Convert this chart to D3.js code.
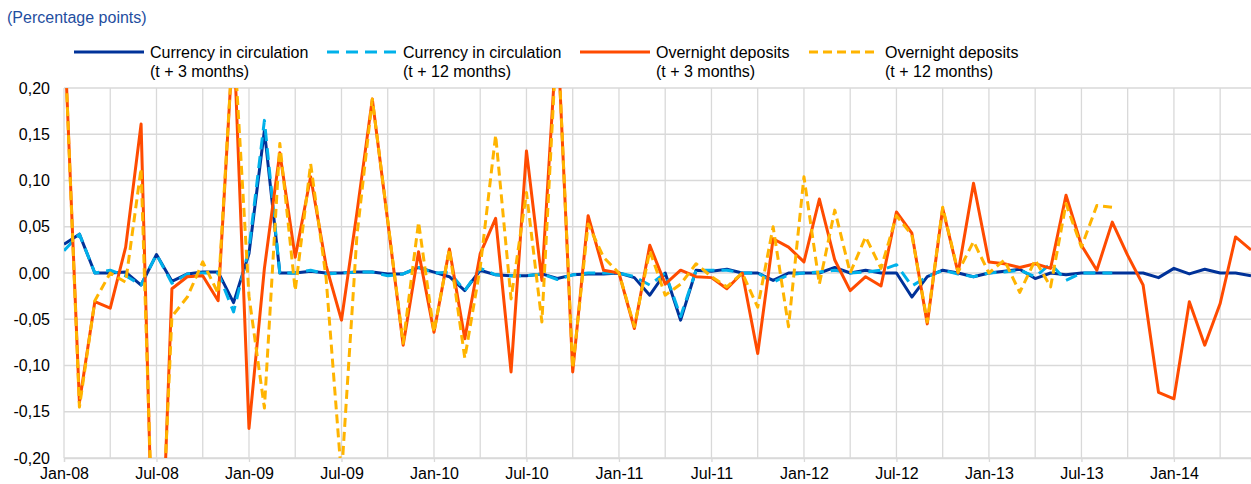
<!DOCTYPE html>
<html>
<head>
<meta charset="utf-8">
<script src="https://cdn.jsdelivr.net/npm/d3@7"></script>
<style>
    body { margin: 0; background: #fff; }
    text { font-family: "Liberation Sans", Arial, sans-serif; }
</style>
</head>
<body>
<div id="chart"></div>
<script>

// monthly observations, Jan-08 .. Jun-14
const months = d3.timeMonth.range(new Date(2008, 0, 1), new Date(2014, 6, 1))

// currency in circulation, t + 3 months
const cic3 = [
    0.031, 0.042, 0.000, 0.000, 0.001, -0.013, 0.020, -0.009, -0.001, 0.001, 0.001, -0.032,
    0.021, 0.154, 0.000, 0.000, 0.002, 0.000, 0.000, 0.001, 0.001, -0.001, -0.001, 0.006,
    0.001, -0.004, -0.019, 0.003, -0.002, -0.003, -0.003, -0.001, -0.006, -0.002, -0.001, -0.001,
    0.000, -0.005, -0.024, 0.000, -0.051, 0.003, 0.002, 0.004, 0.000, 0.000, -0.008, 0.000,
    0.000, 0.000, 0.006, 0.000, 0.003, 0.000, 0.000, -0.026, -0.004, 0.003, 0.000, -0.004,
    0.000, 0.002, 0.004, -0.006, 0.000, -0.002, 0.000, 0.000, 0.000, 0.000, 0.000, -0.005,
    0.005, -0.001, 0.004, 0.000, 0.000, -0.003
]

// currency in circulation, t + 12 months (ends Sep-13)
const cic12 = [
    0.024, 0.042, 0.000, 0.003, -0.003, -0.013, 0.020, -0.011, -0.001, 0.000, 0.000, -0.042,
    0.026, 0.165, 0.000, 0.000, 0.003, -0.001, 0.000, 0.001, 0.001, -0.003, -0.001, 0.006,
    0.000, 0.001, -0.019, 0.005, -0.002, -0.003, -0.003, -0.001, -0.007, -0.002, 0.000, 0.000,
    0.000, -0.004, -0.013, 0.000, -0.047, 0.003, 0.003, 0.003, 0.000, 0.000, -0.010, -0.002,
    0.000, 0.001, 0.003, 0.000, 0.001, 0.003, 0.009, -0.014, -0.004, 0.003, -0.001, -0.004,
    0.000, 0.001, 0.003, -0.004, 0.010, -0.008, 0.000, 0.000, 0.000
]

// overnight deposits, t + 3 months
const od3 = [
    0.270, -0.140, -0.031, -0.038, 0.028, 0.161, -0.470, -0.017, -0.004, -0.003, -0.030, 0.260,
    -0.168, 0.005, 0.130, 0.017, 0.104, 0.008, -0.051, 0.065, 0.188, 0.056, -0.078, 0.023,
    -0.064, 0.026, -0.071, 0.021, 0.059, -0.107, 0.132, -0.008, 0.265, -0.107, 0.062, 0.003,
    0.000, -0.060, 0.030, -0.012, 0.003, -0.004, -0.005, -0.017, 0.000, -0.087, 0.037, 0.028,
    0.012, 0.080, 0.014, -0.019, -0.004, -0.014, 0.066, 0.043, -0.055, 0.070, 0.000, 0.097,
    0.012, 0.010, 0.006, 0.010, 0.005, 0.084, 0.030, 0.003, 0.055, 0.019, -0.013, -0.129,
    -0.136, -0.031, -0.078, -0.033, 0.039, 0.025
]

// overnight deposits, t + 12 months (ends Sep-13)
const od12 = [
    0.270, -0.145, -0.030, 0.000, -0.010, 0.113, -0.420, -0.047, -0.026, 0.012, -0.022, 0.260,
    -0.025, -0.146, 0.140, -0.019, 0.118, -0.005, -0.220, 0.040, 0.188, 0.057, -0.076, 0.055,
    -0.064, 0.026, -0.092, 0.006, 0.149, -0.028, 0.087, -0.053, 0.265, -0.103, 0.053, 0.017,
    0.000, -0.058, 0.024, -0.024, -0.012, 0.010, -0.004, -0.015, 0.000, -0.037, 0.050, -0.058,
    0.104, -0.012, 0.068, 0.000, 0.039, 0.005, 0.062, 0.041, -0.053, 0.071, 0.001, 0.034,
    0.000, 0.014, -0.021, 0.014, -0.015, 0.075, 0.028, 0.073, 0.071
]

const yTicks = [-0.20, -0.15, -0.10, -0.05, 0, 0.05, 0.10, 0.15, 0.20]

const series = [
    { name: ["Currency in circulation", "(t + 3 months)"], values: cic3, color: "#003299", dash: null },
    { name: ["Currency in circulation", "(t + 12 months)"], values: cic12, color: "#00b1ea", dash: "12,7" },
    { name: ["Overnight deposits", "(t + 3 months)"], values: od3, color: "#ff4b00", dash: null },
    { name: ["Overnight deposits", "(t + 12 months)"], values: od12, color: "#ffb400", dash: "9,5" },
]


const width = 1251
const height = 484
const margin = { top: 88, right: 0, bottom: 26, left: 64 }

const svg = d3.select("#chart")
    .append("svg")
    .attr("width", width)
    .attr("height", height)

const x = d3.scaleLinear()
    .domain([0, months.length - 1])
    .range([margin.left, width - margin.right])

const y = d3.scaleLinear()
    .domain([-0.2, 0.2])
    .range([height - margin.bottom, margin.top])

// comma decimal, plain hyphen for negatives
const locale = d3.formatLocale({ decimal: ",", thousands: ".", grouping: [3], currency: ["", ""], minus: "-" })
const fmtY = locale.format(".2f")
const fmtMonth = d3.timeFormat("%b-%y")

// grid
const grid = svg.append("g").attr("class", "grid")
grid.selectAll("line.h")
    .data(yTicks)
    .join("line")
    .attr("class", "h")
    .attr("x1", margin.left)
    .attr("x2", width - margin.right)
    .attr("y1", d => y(d))
    .attr("y2", d => y(d))
    .attr("stroke", "#d9d9d9")
    .attr("stroke-width", 1.3)

grid.selectAll("line.v")
    .data(d3.range(0, months.length, 3))
    .join("line")
    .attr("class", "v")
    .attr("x1", d => x(d))
    .attr("x2", d => x(d))
    .attr("y1", y(0.2))
    .attr("y2", y(-0.2))
    .attr("stroke", "#d9d9d9")
    .attr("stroke-width", 1.3)

// axes
const yAxis = svg.append("g")
    .attr("transform", `translate(${margin.left},0)`)
    .call(d3.axisLeft(y).tickValues(yTicks).tickSize(0).tickPadding(14).tickFormat(fmtY))
yAxis.select(".domain").remove()
yAxis.selectAll("text").style("font-size", "16px").attr("fill", "#000")

const xAxis = svg.append("g")
    .attr("transform", `translate(0,${y(-0.2)})`)
    .call(d3.axisBottom(x)
        .tickValues(d3.range(0, months.length, 6))
        .tickSize(4)
        .tickPadding(6)
        .tickFormat(i => fmtMonth(months[i])))
xAxis.select(".domain").attr("stroke", "#d9d9d9").attr("stroke-width", 1.3)
xAxis.selectAll(".tick line").attr("stroke", "#d9d9d9").attr("stroke-width", 1.3)
xAxis.selectAll("text").style("font-size", "16px").attr("fill", "#000")

// lines, clipped to the plot area
svg.append("clipPath")
    .attr("id", "plotClip")
    .append("rect")
    .attr("x", margin.left)
    .attr("y", y(0.2))
    .attr("width", width - margin.left - margin.right)
    .attr("height", y(-0.2) - y(0.2))

const line = d3.line()
    .defined(d => d != null)
    .x((d, i) => x(i))
    .y(d => y(d))

svg.append("g")
    .attr("clip-path", "url(#plotClip)")
    .selectAll("path")
    .data(series)
    .join("path")
    .attr("fill", "none")
    .attr("stroke", d => d.color)
    .attr("stroke-width", 3)
    .attr("stroke-linejoin", "round")
    .attr("stroke-dasharray", d => d.dash)
    .attr("d", d => line(d.values))

// title
svg.append("text")
    .attr("x", 7)
    .attr("y", 23)
    .style("font-size", "16px")
    .attr("fill", "#1f4ea0")
    .text("(Percentage points)")

// legend: sample line start/end per item
const legendPos = [
    { x0: 74, x1: 144 },
    { x0: 327, x1: 397 },
    { x0: 580, x1: 650 },
    { x0: 809, x1: 879 },
]
const legend = svg.append("g").attr("class", "legend")
const items = legend.selectAll("g")
    .data(series)
    .join("g")

items.append("line")
    .attr("x1", (d, i) => legendPos[i].x0)
    .attr("x2", (d, i) => legendPos[i].x1)
    .attr("y1", 52)
    .attr("y2", 52)
    .attr("stroke", d => d.color)
    .attr("stroke-width", 3)
    .attr("stroke-dasharray", d => d.dash)

items.append("text")
    .attr("x", (d, i) => legendPos[i].x1 + 6)
    .attr("y", 58)
    .style("font-size", "16px")
    .attr("fill", "#000")
    .selectAll("tspan")
    .data(d => d.name)
    .join("tspan")
    .attr("x", function () { return this.parentNode.getAttribute("x") })
    .attr("dy", (d, i) => i === 0 ? 0 : 19)
    .text(d => d)

</script>
</body>
</html>
